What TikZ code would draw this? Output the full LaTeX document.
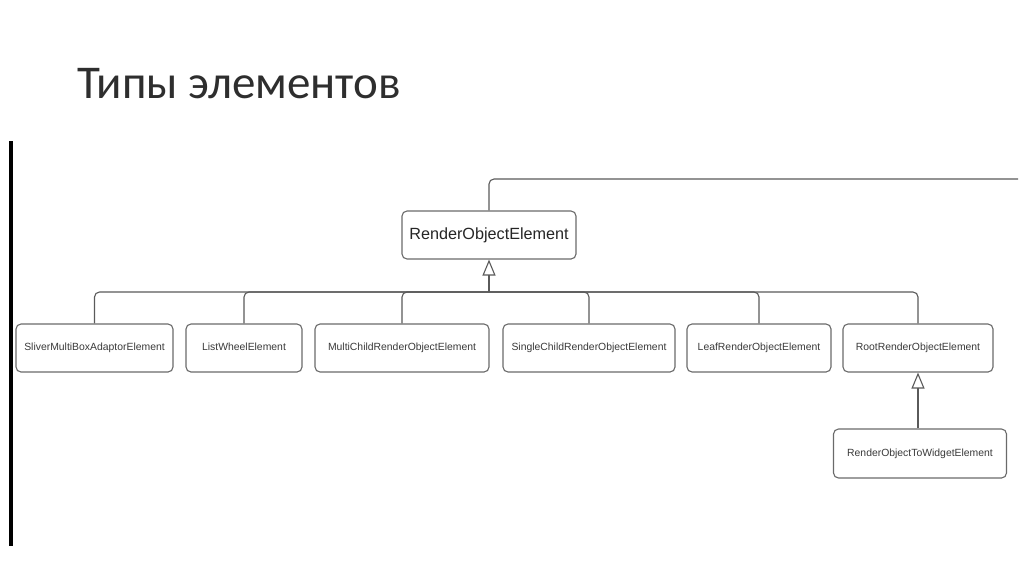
\documentclass[tikz,border=0pt]{standalone}
\usepackage{fontspec}
\setmainfont{Liberation Sans}
\newfontfamily\titlefont{Carlito}
\usetikzlibrary{arrows.meta}
\definecolor{linegray}{HTML}{5A5A5A}
\definecolor{boxgray}{HTML}{6A6A6A}
\definecolor{txtgray}{HTML}{3A3A3A}
\tikzset{
  cls/.style={draw=boxgray, line width=1.1pt, rounded corners=5pt, fill=white,
    minimum height=48pt, inner sep=0pt, text height=7.6pt, text depth=2.2pt,
    text=txtgray, font=\fontsize{10.4pt}{12pt}\selectfont},
  bigcls/.style={cls, text height=11.8pt, text depth=3.4pt,
    font=\fontsize{16.2pt}{19pt}\selectfont, text=black!85},
  conn/.style={draw=linegray, line width=1.1pt, rounded corners=5pt},
  inh/.style={conn, -{Triangle[open, length=16pt, width=13pt, line width=1.1pt]}},
}
\begin{document}
\begin{tikzpicture}[x=1pt, y=-1pt]
\useasboundingbox (0,0) rectangle (1024,574);
\fill[white] (0,0) rectangle (1024,574);
% title
\node[anchor=base west, inner sep=0pt, font=\titlefont\fontsize{47pt}{51pt}\selectfont, text=black!82] (title) at (77,98) {Типы элементов};
% left bar
\draw[line width=3.6pt, black] (10.8,141) -- (10.8,546);
% nodes
\node[bigcls, minimum width=174pt] (roe) at (489,235) {RenderObjectElement};
\node[cls, minimum width=157pt] (sliver) at (94.5,348) {SliverMultiBoxAdaptorElement};
\node[cls, minimum width=116pt] (list) at (244,348) {ListWheelElement};
\node[cls, minimum width=174pt] (multi) at (402,348) {MultiChildRenderObjectElement};
\node[cls, minimum width=172pt] (single) at (589,348) {SingleChildRenderObjectElement};
\node[cls, minimum width=144pt] (leaf) at (759,348) {LeafRenderObjectElement};
\node[cls, minimum width=150pt] (root) at (918,348) {RootRenderObjectElement};
\node[cls, minimum width=173pt, minimum height=49pt] (rotw) at (920,453.5) {RenderObjectToWidgetElement};
% coordinates
\coordinate (bus) at (489,292);
\coordinate (topend) at (1018,179);
% top line
\draw[conn] (roe.north) |- (topend);
% inheritance bus
\draw[conn] (sliver.north) |- (bus);
\draw[conn] (list.north) |- (bus);
\draw[conn] (multi.north) |- (bus);
\draw[conn] (single.north) |- (bus);
\draw[conn] (leaf.north) |- (bus);
\draw[conn] (root.north) |- (bus);
\draw[inh, rounded corners=0pt] (bus) -- (roe.south);
% root child
\draw[inh, rounded corners=0pt] (rotw.north -| root.south) -- (root.south);
\end{tikzpicture}
\end{document}
